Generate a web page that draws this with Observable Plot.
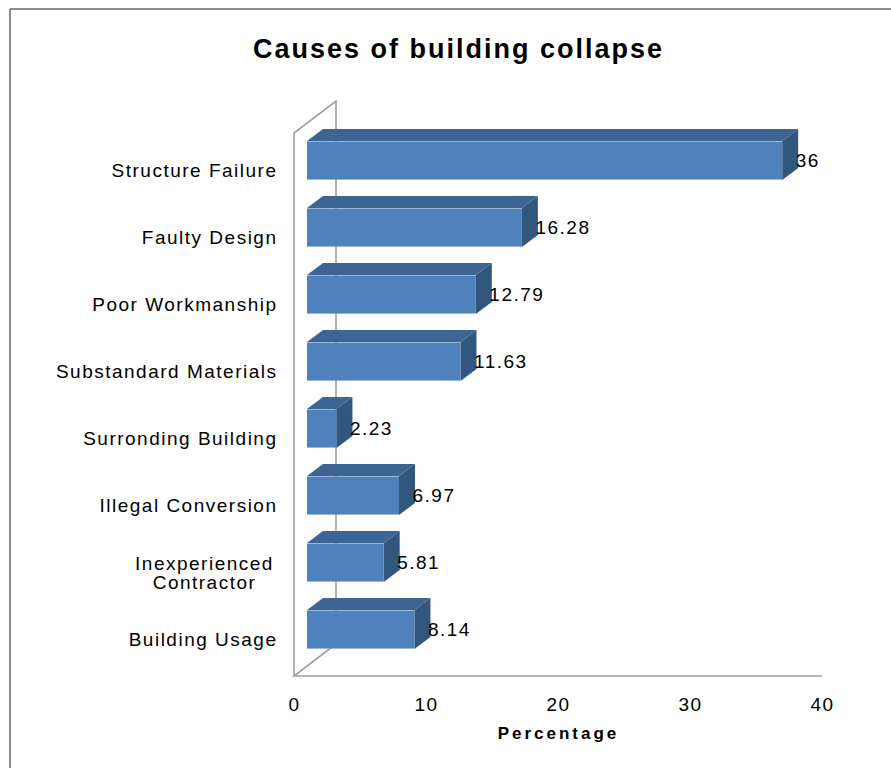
<!DOCTYPE html>
<html><head><meta charset="utf-8">
<script src="https://cdn.jsdelivr.net/npm/d3@7"></script>
<script src="https://cdn.jsdelivr.net/npm/@observablehq/plot@0.6"></script>
<style>body{margin:0;background:#fff} svg{display:block} #chart text{letter-spacing:1.5px}</style>
</head><body><div id="chart"></div>
<script>
const title = "Causes of building collapse";
const xLabel = "Percentage";
const categories = ["Structure Failure","Faulty Design","Poor Workmanship","Substandard Materials","Surronding Building","Illegal Conversion","Inexperienced\nContractor","Building Usage"];
const values = [36, 16.28, 12.79, 11.63, 2.23, 6.97, 5.81, 8.14];
const valueLabels = ["36","16.28","12.79","11.63","2.23","6.97","5.81","8.14"];
const xTicks = [0, 10, 20, 30, 40];

const data = categories.map((c, i) => ({cause: c, value: values[i], label: valueLabels[i]}));
const singleLine = categories.filter(c => !c.includes("\n"));
const multiLine = categories.filter(c => c.includes("\n"));

const FONT = "'Liberation Sans', Arial, sans-serif";
const front = [13, -10], back = [29, -22], wall = [42, -32];
const barH = 39;
const frontColor = "#4f81bd", topColor = "#3d6593", sideColor = "#32577f", wallColor = "#a0a0a0";

function walls(index, scales, values, dims) {
  const g = d3.create("svg:g").attr("fill", "none").attr("stroke", wallColor).attr("stroke-width", 1.6);
  const x0 = scales.x(0), x1 = scales.x(40);
  const yt = dims.marginTop, yb = dims.height - dims.marginBottom;
  g.append("line").attr("x1", 10).attr("y1", 9).attr("x2", 10).attr("y2", dims.height).attr("stroke", "#8c8c8c").attr("stroke-width", 2);
  g.append("line").attr("x1", 10).attr("y1", 9).attr("x2", dims.width).attr("y2", 9).attr("stroke", "#8c8c8c").attr("stroke-width", 2);
  g.append("polyline").attr("points", [[x0, yb], [x0, yt], [x0 + wall[0], yt + wall[1]], [x0 + wall[0], yb + wall[1]], [x0, yb], [x1, yb]].map(p => p.join(",")).join(" "));
  return g.node();
}

function faces(index, scales, values, dims) {
  const g = d3.create("svg:g");
  const x = scales.x, y = scales.y;
  const bw = y.bandwidth ? y.bandwidth() : (dims.height - dims.marginTop - dims.marginBottom) / categories.length;
  for (const d of data) {
    const a = x(0), b = x(d.value);
    const yc = y(d.cause) + bw / 2;
    const t = yc - barH / 2, bo = yc + barH / 2;
    g.append("polygon").attr("fill", topColor).attr("points",
      [[a + front[0], t + front[1]], [a + back[0], t + back[1]], [b + back[0], t + back[1]], [b + front[0], t + front[1]]].map(p => p.join(",")).join(" "));
    g.append("polygon").attr("fill", sideColor).attr("points",
      [[b + front[0], t + front[1]], [b + back[0], t + back[1]], [b + back[0], bo + back[1]], [b + front[0], bo + front[1]]].map(p => p.join(",")).join(" "));
  }
  return g.node();
}

const band = (768 - 133 - 92) / categories.length;

const chart = Plot.plot({
  width: 891,
  height: 768,
  marginLeft: 294,
  marginRight: 69,
  marginTop: 133,
  marginBottom: 92,
  style: {fontFamily: FONT, background: "#fff"},
  x: {domain: [0, 40]},
  y: {domain: categories, padding: 0},
  marks: [
    walls,
    faces,
    Plot.barX(data, {x: "value", y: "cause", fill: frontColor, dx: front[0], dy: front[1], insetTop: (band - barH) / 2, insetBottom: (band - barH) / 2}),
    Plot.text(data, {x: "value", y: "cause", text: "label", dx: 26, dy: front[1], textAnchor: "start", fontSize: 19, fill: "#000"}),
    Plot.axisY({ticks: singleLine, tickSize: 0, tickPadding: 17, fontSize: 19, fill: "#000", label: null}),
    Plot.text(multiLine, {x: 0, y: d => d, text: d => d, dx: -90, textAnchor: "middle", fontSize: 19, lineHeight: 1.0, fill: "#000"}),
    Plot.axisX({ticks: xTicks, tickSize: 0, tickPadding: 21, fontSize: 19, fill: "#000", label: null}),
    Plot.text([xLabel], {frameAnchor: "bottom", dy: 62, fontSize: 17, fontWeight: "bold", fill: "#000"}),
    Plot.text([title], {frameAnchor: "top", dx: -100, dy: -95, fontSize: 27, fontWeight: "bold", fill: "#000"})
  ]
});
document.getElementById("chart").append(chart);
// wider tracking for the bold title and axis label, as in the reference
for (const t of chart.querySelectorAll("text")) {
  if (t.textContent === title) t.style.letterSpacing = "2px";
  if (t.textContent === xLabel) t.style.letterSpacing = "3px";
}
</script>
</body></html>
